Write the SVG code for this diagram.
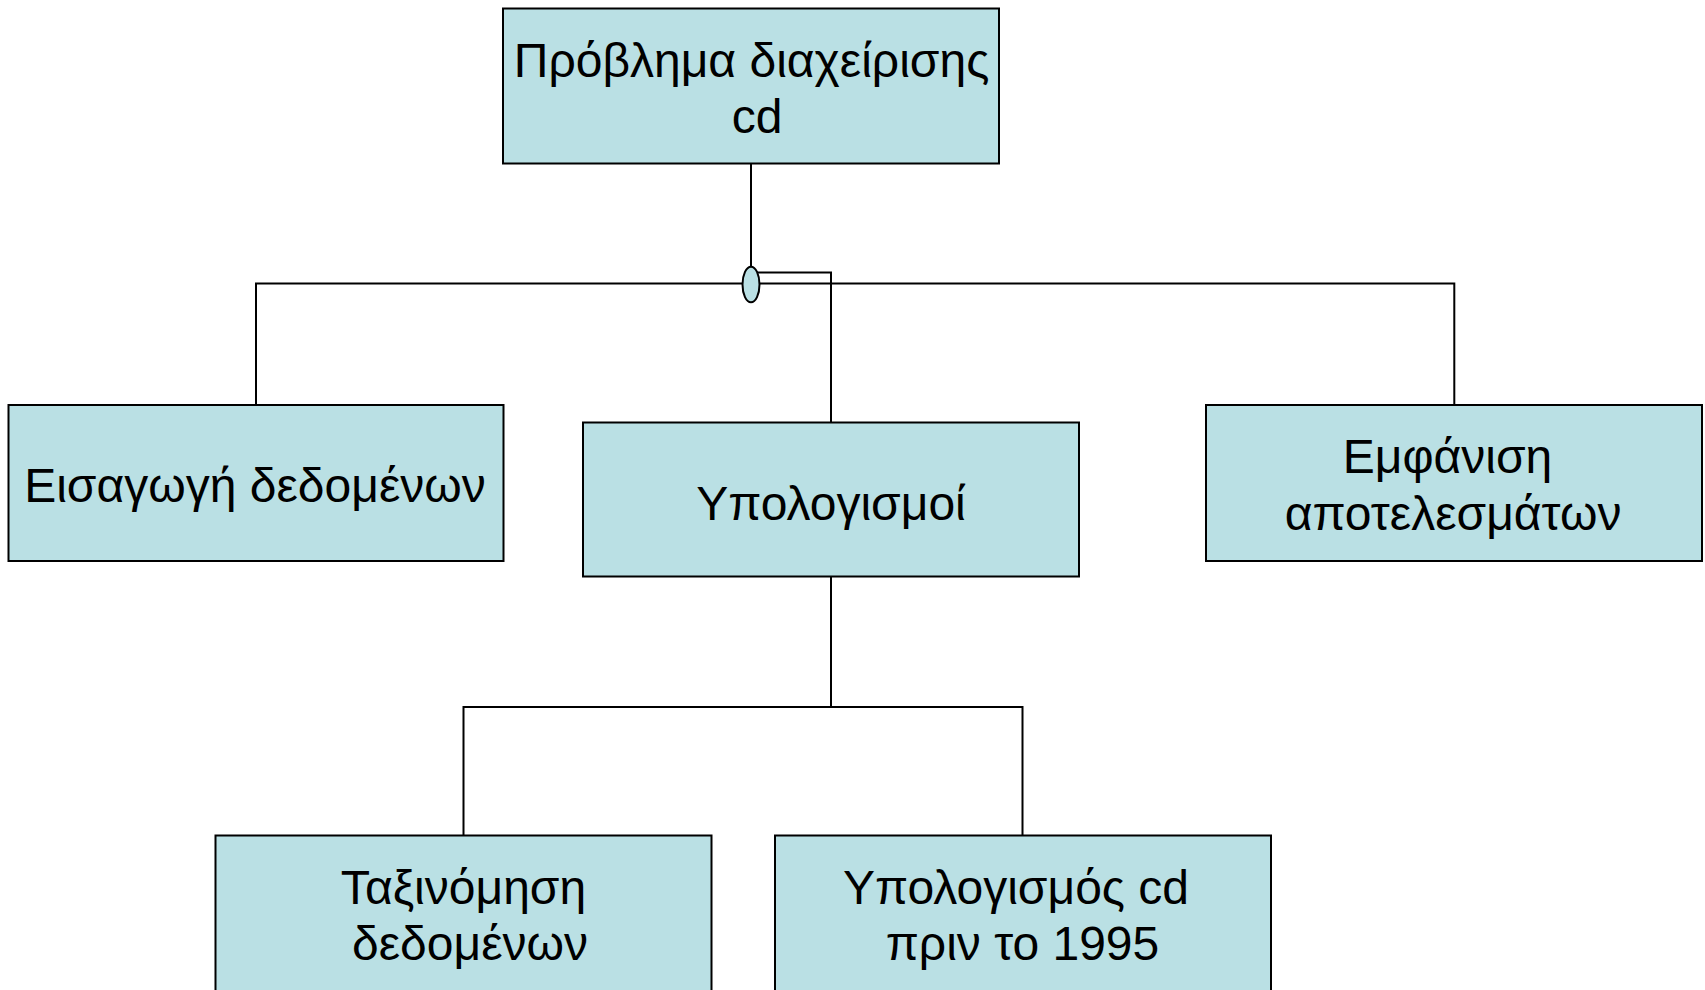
<svg xmlns="http://www.w3.org/2000/svg" width="1705" height="990" viewBox="0 0 1705 990">
<style>
.box{fill:#BAE0E4;stroke:#000;stroke-width:2}
.t{font-family:"Liberation Sans",Arial,sans-serif;font-size:48px;fill:#000;text-anchor:middle}
.c{fill:none;stroke:#000;stroke-width:2}
</style>
<rect width="1705" height="990" fill="#fff"/>
<g id="connectors">
<path class="c" d="M751,163V267"/>
<path class="c" d="M256,405V283.5H1454.3V405"/>
<path class="c" d="M751,272.5H831V422"/>
<path class="c" d="M831,577V707H463.5V835"/>
<path class="c" d="M831,707H1022.5V835"/>
<ellipse cx="751" cy="284.5" rx="8.5" ry="17.8" fill="#BAE0E4" stroke="#000" stroke-width="2"/>
</g>
<g id="n1"><rect class="box" x="503" y="8.5" width="496" height="155"/><text class="t" x="751.5" y="76.7">Πρόβλημα διαχείρισης</text><text class="t" x="757" y="133.3">cd</text></g>
<g id="n2"><rect class="box" x="8.5" y="405" width="495" height="156"/><text class="t" x="255" y="501.7">Εισαγωγή δεδομένων</text></g>
<g id="n3"><rect class="box" x="583" y="422.5" width="496" height="154"/><text class="t" x="831" y="520">Υπολογισμοί</text></g>
<g id="n4"><rect class="box" x="1206" y="405" width="496" height="156"/><text class="t" x="1447.5" y="473">Εμφάνιση</text><text class="t" x="1453" y="530">αποτελεσμάτων</text></g>
<g id="n5"><rect class="box" x="215.5" y="835.5" width="496" height="170"/><text class="t" x="463.5" y="904">Ταξινόμηση</text><text class="t" x="470" y="960">δεδομένων</text></g>
<g id="n6"><rect class="box" x="775" y="835.5" width="496" height="170"/><text class="t" x="1016" y="904">Υπολογισμός cd</text><text class="t" x="1022.5" y="960">πριν το 1995</text></g>
</svg>
